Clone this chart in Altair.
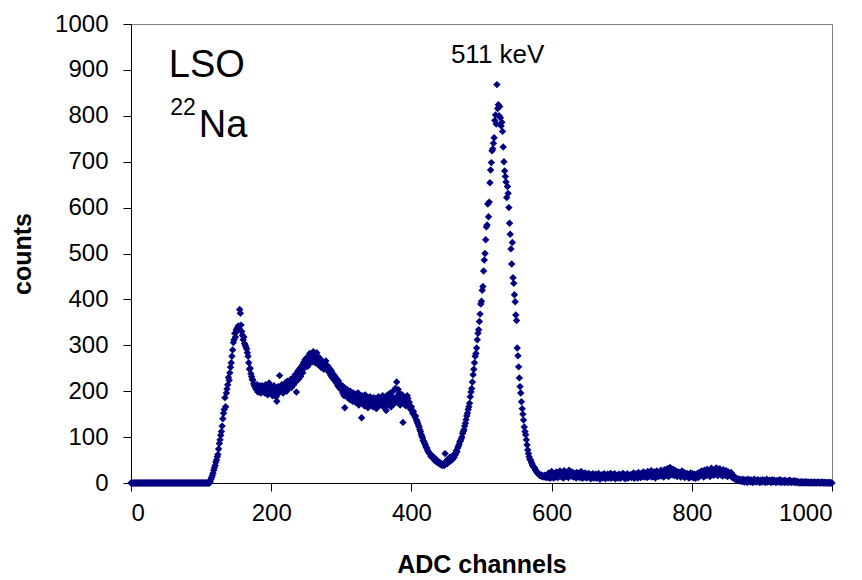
import altair as alt
import pandas as pd

# ---- spectrum counts, one value per ADC channel (0..1000) ----
counts_below_threshold = [
    0, 0, 0, 0, 0, 0, 0, 0, 0, 0, 0, 0, 0, 0, 0, 0, 0, 0, 0, 0,
    0, 0, 0, 0, 0, 0, 0, 0, 0, 0, 0, 0, 0, 0, 0, 0, 0, 0, 0, 0,
    0, 0, 0, 0, 0, 0, 0, 0, 0, 0, 0, 0, 0, 0, 0, 0, 0, 0, 0, 0,
    0, 0, 0, 0, 0, 0, 0, 0, 0, 0, 0, 0, 0, 0, 0, 0, 0, 0, 0, 0,
    0, 0, 0, 0, 0, 0, 0, 0, 0, 0, 0, 0, 0, 0, 0, 0, 0, 0, 0, 0,
    0, 0, 0, 0, 0, 0, 0, 0, 0, 0, 0, 0, 0,
]
counts_backscatter = [
    3, 8, 12, 16, 21, 28, 33, 38, 45, 50, 57, 62, 74, 86, 94, 104, 112, 124, 140, 152,
    160, 186, 166, 196, 205, 214, 230, 224, 240, 252, 262, 276, 290, 306, 312, 326, 318, 334, 330, 338,
    342, 336, 378, 370, 344, 330, 322, 312,
    318, 304, 300, 296, 292, 284, 276, 262, 248, 250, 238, 232, 226, 224, 216, 212, 210, 206, 203, 214,
    198, 208, 200, 212, 196,
]
counts_compton = [
    204, 212, 198, 210, 202, 196, 214, 206, 200, 192, 208, 218, 202, 196, 210, 204, 190, 200, 212, 198,
    206, 188, 178, 202, 210, 196, 234, 208, 200, 214, 206, 196, 212, 204, 218, 208, 200, 222, 212, 206,
    220, 214, 226, 208, 218, 228, 214, 224, 236, 220, 198, 232, 244, 226, 238, 250, 232, 246, 256, 240,
    262, 250, 268, 256, 272, 260, 254, 276, 266, 282, 262, 270, 278, 264, 286, 272, 280, 262, 276, 284,
    268, 258, 274, 264, 270, 252, 266, 258, 262, 248,
    262, 254, 266, 248, 256, 244, 252, 240, 248, 234, 244, 230, 238, 226, 234, 222, 230, 218, 226, 212,
    222, 208, 216, 204, 212,
    206, 196, 210, 190, 164, 200, 192, 204, 186, 198, 190, 182, 200, 188, 194, 178, 196, 184, 190, 176,
    194, 186, 180, 196, 170, 188, 182, 176, 142, 190, 174, 184, 168, 192, 178, 172, 186, 164, 180, 176,
    188, 170, 182, 174, 166, 186, 178, 170, 184, 162, 180, 172, 188, 168, 178, 184, 170, 176, 190, 166,
    182, 174, 186, 158, 180, 192, 170, 184, 176, 196, 166, 188, 178, 200, 172, 184, 206, 176, 220, 190,
    204, 182, 196, 170, 188, 178, 192, 132, 180, 172, 186, 168, 178, 190, 184, 170, 176, 164, 160, 166,
]
counts_valley = [
    158, 152, 156, 148, 144, 146, 138, 134, 130, 126, 122, 116, 112, 106, 102, 98, 92, 90, 86, 82,
    78, 76, 72, 68, 66, 64, 62, 58, 60, 56, 54, 56, 50, 48, 52, 46, 48, 44, 46, 42,
    44, 40, 42, 38, 40,
    42, 38, 64, 44, 48, 42, 52, 46, 50, 56, 48, 54, 58, 52, 60, 56, 64, 62, 70, 68,
]
counts_photopeak = [
    76, 80, 84, 90, 92, 96, 100, 108, 112, 116, 124, 130, 138, 146, 152, 160, 166, 174, 188, 198,
    206, 220, 236, 248, 262, 276, 282, 294, 312, 326, 334, 352, 368, 390, 396, 420, 428, 462, 486, 500,
    530, 558, 562, 608, 580, 612, 654, 682, 698, 724, 728, 740, 752, 790, 802, 782, 868, 816, 824, 800,
    820, 796, 778, 786,
    766, 732, 700, 680, 668, 656, 622, 646, 631, 600, 566, 542, 510, 477, 524, 447, 435, 410, 395, 366,
    354, 294, 277, 253, 229, 210, 196, 177, 162, 150, 137, 122, 112, 105, 94, 83, 72, 64, 57, 52,
    50, 46, 42, 38, 36, 34, 32, 28, 26, 24, 22, 20, 18, 17, 16, 18, 14, 16, 15, 13,
    17, 14, 12, 15,
]
counts_tail = [
    18, 12, 22, 15, 10, 19, 25, 14, 17, 11, 21, 16, 13, 24, 18, 12, 20, 15, 26, 17,
    13, 22, 18, 11, 27, 16, 20, 14, 23, 19, 12, 28, 17, 21, 15, 24, 18, 13, 22, 16,
    19, 11, 23, 17, 14, 21, 12, 18, 25, 15, 10, 20, 16, 13, 22, 17, 11, 19, 14, 21,
    12, 16, 9, 18, 14, 20, 11, 15, 13, 19, 10, 17, 12, 21, 14, 8, 16, 13, 18, 11,
    15, 20, 12, 9, 17, 14, 19, 11, 16, 13, 21, 10, 15, 18, 12, 14, 20, 9, 16, 13,
    17, 11, 19, 14, 10, 18, 13, 16, 21, 12, 15, 9, 17, 14, 20, 11, 16, 13, 18, 15,
    12, 19, 14, 22, 10, 17, 13, 20, 16, 11, 23, 15, 18, 12, 21, 14, 17, 24, 13, 19,
    16, 22, 12, 25, 18, 14, 21, 17, 27, 13, 20, 15, 24, 19, 11, 22, 26, 16, 20, 14,
    23, 18, 28, 15, 21, 25, 13, 29, 19, 24, 17, 31, 22, 14, 27, 34, 20, 25, 18, 30,
    23, 16, 28, 21, 25, 14, 19, 24, 17, 22, 13, 20, 26, 15, 18, 23, 12, 19, 16, 21,
    14, 18, 11, 17, 22, 13, 16, 20, 12, 15, 19, 10, 17, 14, 21, 12, 18, 23, 15, 20,
    26, 17, 22, 13, 28, 19, 24, 16, 30, 21, 18, 27, 14, 23, 32, 20, 25, 17, 29, 22,
    19, 33, 24, 16, 28, 21, 31, 18, 26, 23, 15, 29, 20, 25, 17, 27, 22, 14, 24, 19,
    21, 16, 23, 13, 18, 11, 15, 9, 12, 7, 10, 6, 9, 5, 8, 4, 7, 6, 3, 8,
    5, 2, 7, 4, 6, 1, 8, 3, 5, 7, 2, 6, 4, 1, 5, 8, 3, 6, 2, 4,
    7, 3, 5, 1, 6, 4, 2, 7, 5, 3, 6, 1, 4, 8, 2, 5, 3, 6, 4, 1,
    5, 7, 2, 4, 6, 3, 1, 5, 4, 2, 6, 3, 7, 1, 4, 2, 5, 3, 1, 6,
    2, 4, 3, 1, 5, 2, 6, 3, 1, 4, 2, 3, 5, 1, 2, 4, 1, 3, 2, 0,
    1, 2, 0, 3, 1, 2, 0, 1, 3, 0, 2, 1, 0, 2, 1, 0, 1, 2, 0, 1,
    0, 2, 1, 0, 1, 0, 2, 1, 0, 1, 0, 1, 2, 0, 0, 1, 0, 1, 0, 0,
    1, 0, 0, 1, 0, 0, 0,
]

counts = (counts_below_threshold + counts_backscatter + counts_compton
          + counts_valley + counts_photopeak + counts_tail)
channels = list(range(len(counts)))

x_ticks = [0, 200, 400, 600, 800, 1000]
y_ticks = [0, 100, 200, 300, 400, 500, 600, 700, 800, 900, 1000]

# annotation texts with their anchor positions in data units
label_511 = ["511 keV"]
label_511_x = [523]
label_511_y = [916]
label_lso = ["LSO"]
label_lso_x = [54]
label_lso_y = [884]
label_mass = ["22"]
label_mass_x = [56]
label_mass_y = [802]
label_na = ["Na"]
label_na_x = [96.7]
label_na_y = [754]

FONT = "Liberation Sans"
NAVY = "#000080"

df = pd.DataFrame({"channel": channels, "counts": counts})

xs = alt.Scale(domain=[0, 1000], nice=False)
ys = alt.Scale(domain=[0, 1000], nice=False)

points = alt.Chart(df).mark_point(
    shape="diamond", filled=True, size=55, color=NAVY, opacity=1
).encode(
    x=alt.X("channel:Q", scale=xs, axis=alt.Axis(
        values=x_ticks, title="ADC channels", grid=False, format="d",
        labelFontSize=24, labelPadding=10, tickSize=8,
        titleFontSize=25, titleFontWeight="bold",
        titleX=350.5, titleY=89, titleBaseline="alphabetic",
    )),
    y=alt.Y("counts:Q", scale=ys, axis=alt.Axis(
        values=y_ticks, title="counts", grid=False, format="d",
        labelFontSize=24, labelPadding=15, tickSize=8,
        titleFontSize=25, titleFontWeight="bold",
        titleX=-109, titleY=229.5, titleBaseline="middle", titleAngle=270,
    )),
)


def text_layer(texts, xv, yv, size, align):
    d = pd.DataFrame({"t": texts, "x": xv, "y": yv})
    return alt.Chart(d).mark_text(
        font=FONT, fontSize=size, color="black", align=align, baseline="alphabetic"
    ).encode(
        x=alt.X("x:Q", scale=xs),
        y=alt.Y("y:Q", scale=ys),
        text="t:N",
    )


chart = alt.layer(
    points,
    text_layer(label_511, label_511_x, label_511_y, 26, "center"),
    text_layer(label_lso, label_lso_x, label_lso_y, 38, "left"),
    text_layer(label_mass, label_mass_x, label_mass_y, 23, "left"),
    text_layer(label_na, label_na_x, label_na_y, 38, "left"),
).properties(
    width=701, height=459,
    autosize=alt.AutoSizeParams(type="none"),
    padding={"left": 123, "top": 16, "right": 22, "bottom": 96},
    background="white",
).configure_view(
    stroke="#808080", strokeWidth=1
).configure_axis(
    labelFont=FONT, titleFont=FONT, labelColor="black", titleColor="black",
    domainColor="black", domainWidth=1, tickColor="black", tickWidth=1,
)

chart.save("out.html", embed_options={"renderer": "svg", "actions": False})
